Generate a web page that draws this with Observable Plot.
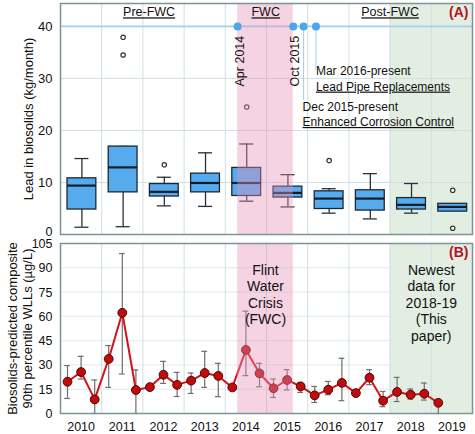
<!DOCTYPE html>
<html><head><meta charset="utf-8">
<script src="https://cdn.jsdelivr.net/npm/d3@7"></script>
<script src="https://cdn.jsdelivr.net/npm/@observablehq/plot@0.6"></script>
<style>
body{margin:0;background:#fff;}
#chart{width:475px;height:434px;position:relative;}
#chart svg{display:block;}
</style></head><body><div id="chart"></div>
<script>
// ---------- data: panel A (box summaries, kg/month) ----------
const years   = [2010, 2011, 2012, 2013, 2014, 2015, 2016, 2017, 2018, 2019];
const boxLo   = [1.4, 1.5, 5.5, 5.4, 6.4, 5.3, 4.1, 3.0, 4.1, 4.4];
const boxQ1   = [4.8, 8.1, 7.3, 8.1, 7.4, 7.1, 4.9, 4.6, 4.8, 4.4];
const boxMed  = [9.4, 12.9, 8.2, 9.9, 9.9, 8.0, 6.9, 6.9, 5.7, 5.3];
const boxQ3   = [10.8, 16.9, 9.7, 11.7, 12.8, 9.2, 8.3, 8.5, 7.0, 5.9];
const boxHi   = [14.6, 16.9, 11.0, 15.7, 17.4, 11.5, 8.8, 11.7, 9.8, 5.9];
const outlierYears  = [2011, 2011, 2012, 2014, 2016, 2019, 2019];
const outlierValues = [37.9, 34.5, 13.4, 24.5, 14.2, 8.5, 1.2];

// events (decimal year)
const eventNames = ["Apr 2014", "Oct 2015", "Dec 2015", "Mar 2016"];
const eventDates = [2014.3, 2015.65, 2015.9, 2016.2];
const periodNames   = ["Pre-FWC", "FWC", "Post-FWC"];
const periodLabelAt = [2012.15, 2014.98, 2018.0];
const newestStart = 2018, newestEnd = 2020;

// ---------- data: panel B (90th percentile WLL, ug/L, per 4-month period) ----------
const wllDate  = [2010.17, 2010.5, 2010.83, 2011.17, 2011.5, 2011.83, 2012.17, 2012.5, 2012.83,
                  2013.17, 2013.5, 2013.83, 2014.17, 2014.5, 2014.83, 2015.17, 2015.5, 2015.83,
                  2016.17, 2016.5, 2016.83, 2017.17, 2017.5, 2017.83, 2018.17, 2018.5, 2018.83, 2019.17];
const wllValue = [19.6, 25.6, 8.7, 33.7, 62.2, 14.5, 16.3, 23.9, 17.7,
                  20.3, 25.0, 23.2, 16.1, 39.3, 24.8, 15.6, 20.7, 16.7,
                  11.2, 14.7, 18.9, 12.6, 22.1, 7.9, 13.3, 11.6, 12.2, 6.6];
const wllHigh  = [29.6, 35.3, 20.7, 42.0, 98.8, 26.9, null, 32.2, 25.4,
                  25.0, 38.4, 31.0, null, 63.2, 31.0, 21.3, 27.1, 19.2,
                  16.7, 19.8, 34.1, null, 27.1, 13.6, 22.3, 15.1, 18.8, 6.8];
const wllLow   = [9.3, 21.3, 0, 16.1, 24.4, 0, null, 18.6, 10.5,
                  12.4, 16.1, 10.4, null, 23.4, 16.5, 9.9, 14.5, 13.0,
                  6.8, 11.6, 7.9, null, 17.8, 4.2, 7.4, 8.9, 8.3, 0];

const yTicksA = [0, 10, 20, 30, 40];
const yTicksB = [0, 15, 30, 45, 60, 75, 90, 105];
const gridYears = [2011, 2012, 2013, 2014, 2015, 2016, 2017, 2018, 2019];

// ---------- tables built from arrays ----------
const boxes = years.map((year, i) => ({year, lo: boxLo[i], q1: boxQ1[i], med: boxMed[i], q3: boxQ3[i], hi: boxHi[i]}));
const outliers = outlierYears.map((year, i) => ({year, v: outlierValues[i]}));
const events = eventNames.map((name, i) => ({name, t: eventDates[i]}));
const wll = wllDate.map((t, i) => ({t, v: wllValue[i], lo: wllLow[i], hi: wllHigh[i]}));
const wllErr = wll.filter(d => d.hi != null);

const FONT = "'Liberation Sans', Arial, Helvetica, sans-serif";
const GRID = "#cfe0e2";
const FRAME = "#7b9595";
const PINK = "#e890b8";
const GREEN = "#e3eee3";
const BOXW = 0.35, CAPW = 0.17, MID = 0.52;
const fwc = {x1: eventDates[0], x2: eventDates[1]};

const style = {fontFamily: FONT, fontSize: "13px", color: "#111", background: "transparent", overflow: "visible"};

// ---------- Panel A ----------
const panelA = Plot.plot({
  width: 475, height: 237,
  marginLeft: 60, marginRight: 3, marginTop: 3, marginBottom: 3,
  style,
  x: {domain: [2010, 2020], axis: null},
  y: {domain: [0, 44.4], axis: null},
  marks: [
    Plot.rect([{x1: newestStart, x2: newestEnd}], {x1: "x1", x2: "x2", fill: GREEN}),
    Plot.ruleX(gridYears, {stroke: GRID, strokeWidth: 1}),
    Plot.ruleY([10, 20, 30], {stroke: GRID, strokeWidth: 1}),
    Plot.ruleY([40], {stroke: "#a3cfee", strokeWidth: 1.6}),
    // whiskers
    Plot.ruleX(boxes.filter(d => d.hi > d.q3), {x: d => d.year + MID, y1: "q3", y2: "hi", stroke: "#2a3038", strokeWidth: 1.3}),
    Plot.ruleX(boxes.filter(d => d.lo < d.q1), {x: d => d.year + MID, y1: "lo", y2: "q1", stroke: "#2a3038", strokeWidth: 1.3}),
    Plot.ruleY(boxes.filter(d => d.hi > d.q3 || d.year === 2011), {x1: d => d.year + MID - CAPW, x2: d => d.year + MID + CAPW, y: "hi", stroke: "#2a3038", strokeWidth: 1.3}),
    Plot.ruleY(boxes.filter(d => d.lo < d.q1), {x1: d => d.year + MID - CAPW, x2: d => d.year + MID + CAPW, y: "lo", stroke: "#2a3038", strokeWidth: 1.3}),
    // boxes
    Plot.rect(boxes, {x1: d => d.year + MID - BOXW, x2: d => d.year + MID + BOXW, y1: "q1", y2: "q3", fill: "#56abef", stroke: "#1c2836", strokeWidth: 1.3}),
    Plot.ruleY(boxes, {x1: d => d.year + MID - BOXW, x2: d => d.year + MID + BOXW, y: "med", stroke: "#141c26", strokeWidth: 2.2}),
    Plot.dot(outliers, {x: d => d.year + MID, y: "v", r: 2.2, fill: "white", stroke: "#333", strokeWidth: 1.2}),
    // FWC overlay
    Plot.rect([fwc], {x1: "x1", x2: "x2", fill: PINK, fillOpacity: 0.4}),
    // event lines and dots
    Plot.ruleX(events.slice(2, 3), {x: "t", y1: 40, y2: 25.8, stroke: "#a3cfee", strokeWidth: 1}),
    Plot.ruleX(events.slice(3, 4), {x: "t", y1: 40, y2: 31.6, stroke: "#a3cfee", strokeWidth: 1}),
    Plot.dot(events, {x: "t", y: 40, r: 4, fill: "#4aa7ea"}),
    Plot.text(events.slice(0, 2), {x: "t", y: 38.2, text: "name", rotate: -90, textAnchor: "end", dx: 2, fontSize: 12.5, fill: "#111"}),
    Plot.text([{t: eventDates[3], s: "Mar 2016-present"}], {x: "t", y: 31.3, text: "s", textAnchor: "start", fontSize: 12, fill: "#111"}),
    Plot.text([{t: eventDates[3], s: "Lead Pipe Replacements"}], {x: "t", y: 28.4, text: "s", textAnchor: "start", fontSize: 12, fill: "#111"}),
    Plot.text([{t: eventDates[2], s: "Dec 2015-present"}], {x: "t", y: 24.4, text: "s", textAnchor: "start", dx: -1, fontSize: 12, fill: "#111"}),
    Plot.text([{t: eventDates[2], s: "Enhanced Corrosion Control"}], {x: "t", y: 21.6, text: "s", textAnchor: "start", dx: -1, fontSize: 12, fill: "#111"}),
    // period labels
    Plot.text(periodNames.map((s, i) => ({s, t: periodLabelAt[i]})), {x: "t", y: 42.7, text: "s", fontSize: 12.5, fill: "#111"}),
    Plot.text(["(A)"], {frameAnchor: "top-right", dx: -4, dy: 9, text: d => d, fontSize: 14, fontWeight: "bold", fill: "#b3121e", lineAnchor: "middle"}),
    Plot.frame({stroke: FRAME, strokeWidth: 1.5}),
    Plot.axisY(yTicksA.slice(1), {tickSize: 0, tickPadding: 8, fontSize: 13, dy: 0.5, label: null}),
    Plot.axisY(yTicksA.slice(0, 1), {tickSize: 0, tickPadding: 8, fontSize: 12.5, dy: -3, label: null}),
    Plot.text(["Lead in biosolids (kg/month)"], {frameAnchor: "left", dx: -32, rotate: -90, textAnchor: "middle", lineAnchor: "middle", text: d => d, fontSize: 13, fill: "#111"})
  ]
});

// ---------- Panel B ----------
const panelB = Plot.plot({
  width: 475, height: 197,
  marginLeft: 60, marginRight: 3, marginTop: 6, marginBottom: 21,
  style,
  x: {domain: [2010, 2020]},
  y: {domain: [0, 105]},
  marks: [
    Plot.rect([{x1: newestStart, x2: newestEnd}], {x1: "x1", x2: "x2", fill: GREEN}),
    Plot.ruleY(yTicksB.slice(1, -1), {stroke: "#e2eaea", strokeWidth: 1}),
    Plot.ruleX(gridYears, {stroke: GRID, strokeWidth: 1}),
    // error bars
    Plot.ruleX(wllErr, {x: "t", y1: "lo", y2: "hi", stroke: "#6e6e6e", strokeWidth: 1.2}),
    Plot.ruleY(wllErr, {x1: d => d.t - 0.07, x2: d => d.t + 0.07, y: "hi", stroke: "#6e6e6e", strokeWidth: 1.2}),
    Plot.ruleY(wllErr, {x1: d => d.t - 0.07, x2: d => d.t + 0.07, y: "lo", stroke: "#6e6e6e", strokeWidth: 1.2}),
    Plot.line(wll, {x: "t", y: "v", stroke: "#d5121a", strokeWidth: 2}),
    Plot.dot(wll, {x: "t", y: "v", r: 4.4, fill: "#c40a0a", stroke: "#4a0606", strokeWidth: 1}),
    Plot.rect([fwc], {x1: "x1", x2: "x2", fill: PINK, fillOpacity: 0.4}),
    Plot.text(["Flint\nWater\nCrisis\n(FWC)"], {x: (eventDates[0] + eventDates[1]) / 2, y: 93, text: d => d, lineAnchor: "top", lineHeight: 1.18, fontSize: 14, fill: "#111"}),
    Plot.text(["Newest\ndata for\n2018-19\n(This\npaper)"], {x: (newestStart + newestEnd) / 2, y: 93, text: d => d, lineAnchor: "top", lineHeight: 1.18, fontSize: 14, fill: "#111"}),
    Plot.text(["(B)"], {frameAnchor: "top-right", dx: -4, dy: 9, text: d => d, fontSize: 14, fontWeight: "bold", fill: "#b3121e", lineAnchor: "middle"}),
    Plot.frame({stroke: FRAME, strokeWidth: 1.5}),
    Plot.axisY(yTicksB, {tickSize: 0, tickPadding: 8, fontSize: 12.5, dy: 0.5, label: null}),
    Plot.axisX(years.map(y => y + 0.5), {tickSize: 0, tickPadding: 9, fontSize: 12.5, tickFormat: d => String(Math.floor(d)), label: null}),
    Plot.text(["Biosolids-predicted composite\n90th percentile WLLs (\u00b5g/L)"], {frameAnchor: "left", dx: -41, rotate: -90, textAnchor: "middle", text: d => d, lineAnchor: "middle", lineHeight: 1.2, fontSize: 13, fill: "#111"})
  ]
});

const chart = document.getElementById("chart");
chart.appendChild(panelA);
chart.appendChild(panelB);

const underlined = ["Pre-FWC", "FWC", "Post-FWC", "Lead Pipe Replacements", "Enhanced Corrosion Control"];
d3.select(panelA).selectAll("text")
  .filter(function() { return underlined.includes(this.textContent); })
  .attr("text-decoration", "underline");
</script>
</body></html>
